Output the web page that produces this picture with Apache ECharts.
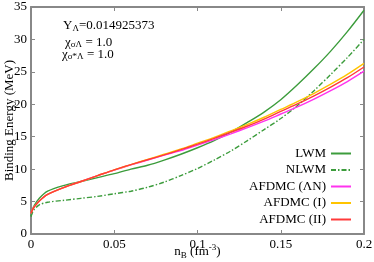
<!DOCTYPE html>
<html>
<head>
<meta charset="utf-8">
<script src="https://cdn.jsdelivr.net/npm/echarts@6/dist/echarts.min.js"></script>
<style>html,body{margin:0;padding:0;background:#fff}#c{width:374px;height:262px}</style>
</head>
<body>
<div id="c"></div>
<script>
var nB      = [0, 0.001, 0.002, 0.005, 0.01, 0.02, 0.03, 0.04, 0.05, 0.06, 0.07, 0.08, 0.09, 0.10, 0.11, 0.12, 0.13, 0.14, 0.15, 0.16, 0.17, 0.18, 0.19, 0.20];
var lwm     = [2.7, 3.8, 4.4, 5.5, 6.6, 7.5, 8.1, 8.7, 9.3, 10.0, 10.6, 11.4, 12.3, 13.3, 14.4, 15.7, 17.2, 18.8, 20.7, 23.0, 25.5, 28.2, 31.2, 34.5];
var nlwm    = [2.7, 3.4, 3.8, 4.5, 4.9, 5.2, 5.5, 5.8, 6.2, 6.6, 7.2, 8.0, 9.0, 10.1, 11.4, 12.8, 14.4, 16.1, 17.8, 19.8, 22.1, 24.6, 27.2, 30.0];
var afdmcLN = [3.2, 3.8, 4.2, 5.1, 6.1, 7.2, 8.1, 9.0, 9.85, 10.65, 11.4, 12.15, 12.85, 13.7, 14.55, 15.45, 16.4, 17.4, 18.5, 19.6, 20.8, 22.1, 23.5, 25.1];
var afdmcI  = [3.2, 3.8, 4.2, 5.1, 6.1, 7.2, 8.1, 9.0, 9.9, 10.7, 11.5, 12.3, 13.1, 14.0, 14.9, 15.9, 16.9, 18.0, 19.2, 20.4, 21.7, 23.1, 24.6, 26.3];
var afdmcII = [3.2, 3.8, 4.2, 5.1, 6.1, 7.2, 8.1, 9.0, 9.9, 10.7, 11.45, 12.2, 13.0, 13.85, 14.75, 15.7, 16.65, 17.7, 18.9, 20.05, 21.3, 22.65, 24.1, 25.75];
var names = ['LWM', 'NLWM', 'AFDMC (ΛN)', 'AFDMC (I)', 'AFDMC (II)'];
var xTicks = [0, 0.05, 0.1, 0.15, 0.2];
var yTicks = [0, 5, 10, 15, 20, 25, 30, 35];

function pairs(ys){ return nB.map(function(x,i){ return [x, ys[i]]; }); }
var FONT = 'Liberation Serif';
var axisCol = '#888888';

function axisCommon(extra){
  var o = {
    axisLine:{show:true, onZero:false, lineStyle:{color:axisCol, width:2}},
    axisTick:{show:true, inside:true, length:4, lineStyle:{color:axisCol, width:1}},
    splitLine:{show:false},
    nameMoveOverlap:false,
    axisLabel:{color:'#000', fontFamily:FONT, fontSize:13}
  };
  for (var k in extra) o[k] = extra[k];
  return o;
}

var chart = echarts.init(document.getElementById('c'));
var lineW = 1.4;
chart.setOption({
  animation:false,
  grid:{left:31, right:10, top:7, bottom:28, containLabel:false, outerBoundsMode:'none'},
  xAxis:[
    axisCommon({type:'value', min:xTicks[0], max:xTicks[xTicks.length-1], interval:0.05, position:'bottom',
      axisLabel:{color:'#000', fontFamily:FONT, fontSize:13, margin:4},
      name:'{a|n}{b|B}{a| (fm}{c|-3}{a|)}', nameLocation:'middle', nameGap:9,
      nameTextStyle:{fontFamily:FONT, color:'#000', rich:{
        a:{fontFamily:FONT, fontSize:13, color:'#000'},
        b:{fontFamily:FONT, fontSize:9, color:'#000', padding:[8,0,0,0]},
        c:{fontFamily:FONT, fontSize:9, color:'#000', padding:[0,0,8,0]}
      }}}),
    axisCommon({type:'value', min:xTicks[0], max:xTicks[xTicks.length-1], interval:0.05, position:'top', axisLabel:{show:false}})
  ],
  yAxis:[
    axisCommon({type:'value', min:yTicks[0], max:yTicks[yTicks.length-1], interval:5, position:'left',
      axisLabel:{color:'#000', fontFamily:FONT, fontSize:13, margin:4},
      name:'Binding Energy (MeV)', nameLocation:'middle', nameGap:15,
      nameTextStyle:{fontFamily:FONT, fontSize:13, color:'#000'}}),
    axisCommon({type:'value', min:yTicks[0], max:yTicks[yTicks.length-1], interval:5, position:'right', axisLabel:{show:false}})
  ],
  legend:{
    orient:'vertical', right:17, top:142, align:'right',
    itemWidth:20, itemHeight:10, itemGap:3.5,
    itemStyle:{opacity:0},
    textStyle:{fontFamily:FONT, fontSize:13, color:'#000'},
    data:names
  },
  graphic:[
    {type:'text', left:63, top:19, style:{
      text:'{a|Y}{b|Λ}{a|=0.014925373}',
      rich:{a:{fontFamily:FONT, fontSize:13, fill:'#000'}, b:{fontFamily:FONT, fontSize:9, fill:'#000', padding:[7,0,0,0]}}}},
    {type:'text', left:65, top:36, style:{
      text:'{a|χ}{b|σΛ}{a| = 1.0}',
      rich:{a:{fontFamily:FONT, fontSize:13, fill:'#000'}, b:{fontFamily:FONT, fontSize:9, fill:'#000', padding:[5,0,0,0]}}}},
    {type:'text', left:62, top:48, style:{
      text:'{a|χ}{b|σ*Λ}{a| = 1.0}',
      rich:{a:{fontFamily:FONT, fontSize:13, fill:'#000'}, b:{fontFamily:FONT, fontSize:9, fill:'#000', padding:[5,0,0,0]}}}}
  ],
  series:[
    {name:names[0], type:'line', data:pairs(lwm), smooth:0.3, showSymbol:false, symbol:'none', color:'#3c9c3c', lineStyle:{width:lineW, color:'#3c9c3c'}},
    {name:names[1], type:'line', data:pairs(nlwm), smooth:0.3, showSymbol:false, symbol:'none', color:'#3c9c3c', lineStyle:{width:lineW, color:'#3c9c3c', type:[5,2,1.5,2]}},
    {name:names[2], type:'line', data:pairs(afdmcLN), smooth:0.3, showSymbol:false, symbol:'none', color:'#ff33ee', lineStyle:{width:lineW, color:'#ff33ee'}},
    {name:names[3], type:'line', data:pairs(afdmcI), smooth:0.3, showSymbol:false, symbol:'none', color:'#ffc400', lineStyle:{width:lineW, color:'#ffc400'}},
    {name:names[4], type:'line', data:pairs(afdmcII), smooth:0.3, showSymbol:false, symbol:'none', color:'#ff3a3a', lineStyle:{width:lineW, color:'#ff3a3a'}}
  ]
});
</script>
</body>
</html>
